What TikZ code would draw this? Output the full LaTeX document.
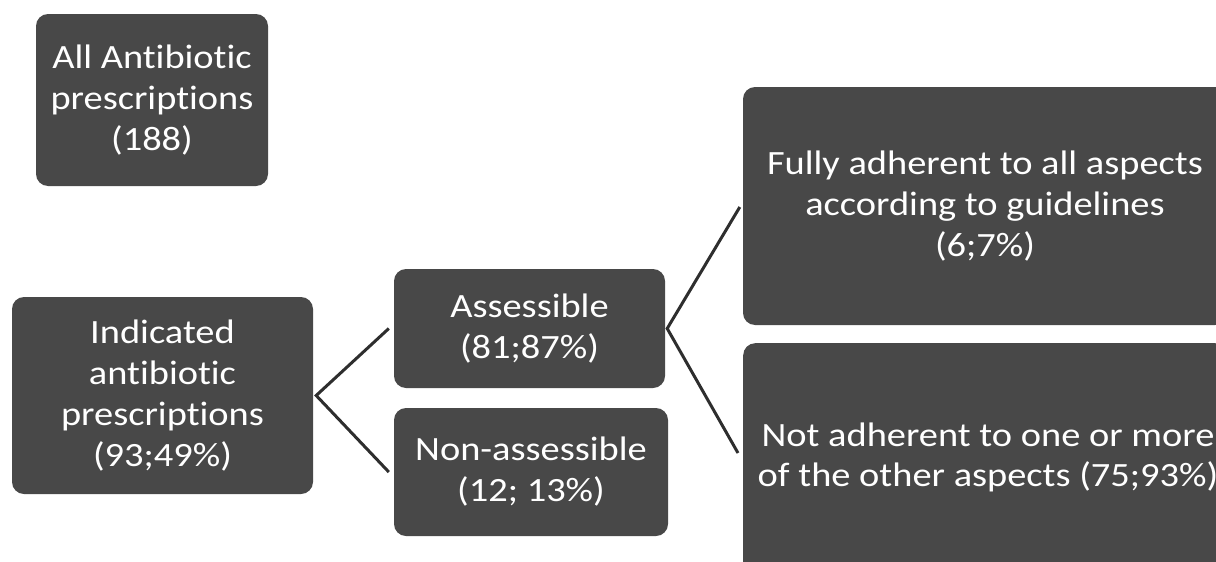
\documentclass[tikz,border=0pt]{standalone}
\usepackage{fontspec}
\setmainfont{Carlito}[FakeStretch=1.13,Ligatures=NoCommon]
\usetikzlibrary{calc}
\definecolor{boxfill}{HTML}{484848}
\definecolor{linecol}{HTML}{2E2E2E}
\begin{document}
\begin{tikzpicture}[x=1pt,y=-1pt,
  box/.style={fill=boxfill,rounded corners=12pt,inner sep=0pt,text=white,align=center,
    font=\fontsize{34}{41}\selectfont},
  btxt/.style={inner sep=0pt,text=white,align=center,font=\fontsize{34}{40}\selectfont},
  conn/.style={draw=linecol,line width=3pt}]
\useasboundingbox (0,0) rectangle (1216,562);
\clip (0,0) rectangle (1216,562);
\node[box,minimum width=232pt,minimum height=172pt] (all) at (152,100) {All Antibiotic\\prescriptions\\(188)};
\node[box,minimum width=301pt,minimum height=197pt] (ind) at (162.5,395.5) {Indicated\\antibiotic\\prescriptions\\(93;49\%)};
\node[box,minimum width=271pt,minimum height=119pt] (as) at (529.5,328.5) {Assessible\\(81;87\%)};
\node[box,minimum width=274pt,minimum height=128pt] (non) at (531,472) {Non-assessible\\(12; 13\%)};
\node[box,minimum width=484pt,minimum height=238pt] (full) at (985,206) {Fully adherent to all aspects\\according to guidelines\\(6;7\%)};
\node[box,minimum width=484pt,minimum height=260pt,anchor=north west] (notbox) at (743,343) {};
\node[btxt] (nottxt) at (988,457) {Not adherent to one or more\\of the other aspects (75;93\%)};
\coordinate (lv) at ($(ind.east)+(3,0)$);
\coordinate (rv) at ($(as.east)+(2,0)$);
\draw[conn] ($(as.west)+(-5,0)$) -- (lv) -- ($(non.west)+(-5,0)$);
\draw[conn] ($(full.west)+(-3,1)$) -- (rv) -- ($(notbox.west |- nottxt)+(-5,-4)$);
\end{tikzpicture}
\end{document}
